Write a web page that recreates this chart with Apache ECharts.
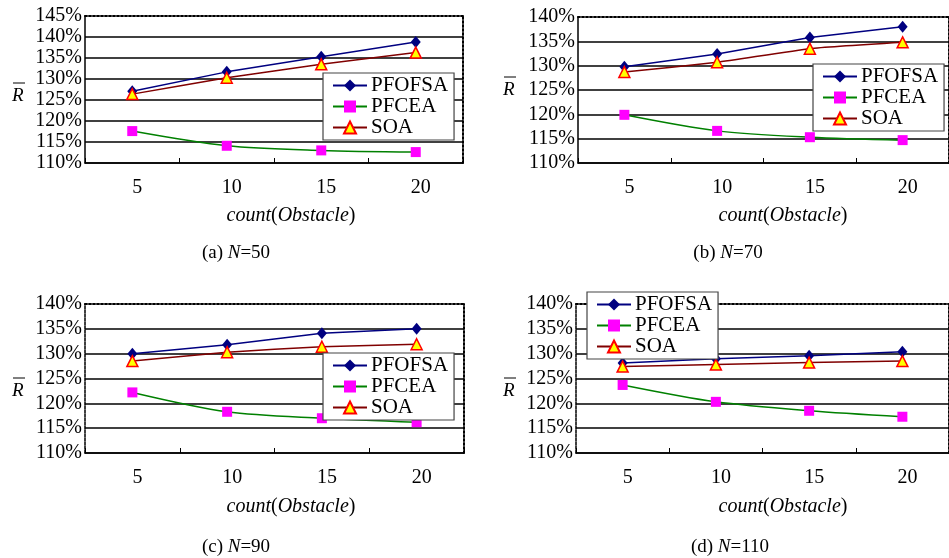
<!DOCTYPE html>
<html>
<head>
<meta charset="utf-8">
<script src="https://cdn.jsdelivr.net/npm/echarts@6/dist/echarts.min.js"></script>
<style>
html,body{margin:0;padding:0;background:#fff;}
#c{width:949px;height:558px;}
</style>
</head>
<body>
<div id="c"></div>
<script>
var categories = ['5', '10', '15', '20'];
var seriesNames = ['PFOFSA', 'PFCEA', 'SOA'];

var a_PFOFSA = [127.1, 131.7, 135.3, 138.8];
var a_PFCEA  = [117.6, 114.1, 113.0, 112.6];
var a_SOA    = [126.4, 130.3, 133.5, 136.3];

var b_PFOFSA = [129.8, 132.4, 135.8, 138.0];
var b_PFCEA  = [119.9, 116.6, 115.3, 114.7];
var b_SOA    = [128.7, 130.7, 133.5, 134.8];

var c_PFOFSA = [130.0, 131.8, 134.1, 135.0];
var c_PFCEA  = [122.2, 118.3, 117.0, 116.2];
var c_SOA    = [128.5, 130.3, 131.4, 131.9];

var d_PFOFSA = [128.1, 129.0, 129.6, 130.4];
var d_PFCEA  = [123.7, 120.3, 118.5, 117.3];
var d_SOA    = [127.4, 127.8, 128.2, 128.5];

var yMins = [110, 110, 110, 110];
var yMaxs = [145, 140, 140, 140];
var captions = [['(a) ', 'N', '=50'], ['(b) ', 'N', '=70'], ['(c) ', 'N', '=90'], ['(d) ', 'N', '=110']];

var panels = [
  [a_PFOFSA, a_PFCEA, a_SOA],
  [b_PFOFSA, b_PFCEA, b_SOA],
  [c_PFOFSA, c_PFCEA, c_SOA],
  [d_PFOFSA, d_PFCEA, d_SOA]
];

var FONT = '"Liberation Serif", "Times New Roman", serif';

var layout = [
  {left: 85,  top: 16,  width: 378, height: 147, legend: {left: 323, top: 73},  yLab: {x: 19, y: 97},  xName: {x: 291, y: 216}, cap: {x: 236, y: 253}, dashedLeft: false},
  {left: 578, top: 17,  width: 378, height: 146, legend: {left: 813, top: 64},  yLab: {x: 510, y: 91}, xName: {x: 783, y: 216}, cap: {x: 728, y: 253}, dashedLeft: false},
  {left: 85,  top: 304, width: 379, height: 149, legend: {left: 323, top: 353}, yLab: {x: 19, y: 392}, xName: {x: 291, y: 507}, cap: {x: 236, y: 547}, dashedLeft: true},
  {left: 576, top: 304, width: 378, height: 149, legend: {left: 587, top: 292}, yLab: {x: 510, y: 392}, xName: {x: 783, y: 507}, cap: {x: 730, y: 547}, dashedLeft: true}
];

var styles = [
  {color: '#000080', symbol: 'diamond', size: [10, 12], fill: '#000080', border: '#000080', smooth: false},
  {color: '#008000', symbol: 'rect', size: 10, fill: '#FF00FF', border: '#FF00FF', smooth: 0.3},
  {color: '#800000', symbol: 'triangle', size: [11, 11], fill: '#FFFF00', border: '#FF0000', smooth: 0.15}
];

var grids = [], xAxes = [], yAxes = [], series = [], legends = [], graphics = [];
var xExtra = [], yExtra = [];

layout.forEach(function (L, i) {
  grids.push({left: L.left, top: L.top, width: L.width, height: L.height,
    show: false, containLabel: false});
  xAxes.push({type: 'category', gridIndex: i, data: categories, boundaryGap: true,
    axisLine: {show: true, lineStyle: {color: '#000', width: 1.5}},
    axisTick: {show: true, inside: true, length: 5, alignWithLabel: false, lineStyle: {color: '#000', width: 1}},
    axisLabel: {color: '#000', fontFamily: FONT, fontSize: 20, margin: 15, padding: [0, 0, 0, 10]},
    splitLine: {show: false}});
  yAxes.push({type: 'value', gridIndex: i, min: yMins[i], max: yMaxs[i], interval: 5,
    axisLine: {show: true, lineStyle: {color: '#000', width: 1.5, type: L.dashedLeft ? [3, 1] : 'solid'}},
    axisTick: {show: false},
    axisLabel: {color: '#000', fontFamily: FONT, fontSize: 20, margin: 3, formatter: '{value}%'},
    splitLine: {show: true, showMaxLine: false, lineStyle: {color: '#000', width: 1.5}}});
  xExtra.push({type: 'category', gridIndex: i, data: categories, position: 'top',
    axisLine: {show: true, lineStyle: {color: '#000', width: 2, type: [2, 2]}},
    axisTick: {show: false}, axisLabel: {show: false}, splitLine: {show: false}});
  yExtra.push({type: 'value', gridIndex: i, min: yMins[i], max: yMaxs[i], interval: 5, position: 'right',
    axisLine: {show: true, lineStyle: {color: '#000', width: 2, type: [2, 2]}},
    axisTick: {show: false}, axisLabel: {show: false}, splitLine: {show: false}});
  panels[i].forEach(function (vals, k) {
    var s = styles[k];
    series.push({type: 'line', name: seriesNames[k], xAxisIndex: i, yAxisIndex: i,
      data: vals, smooth: s.smooth, symbol: s.symbol, symbolSize: s.size, showAllSymbol: true,
      lineStyle: {color: s.color, width: 1.5},
      itemStyle: {color: s.fill, borderColor: s.border, borderWidth: k === 2 ? 1.5 : 0},
      z: 3 + k});
  });
  legends.push({orient: 'vertical', left: L.legend.left, top: L.legend.top,
    data: seriesNames, itemWidth: 34, itemHeight: 15, itemGap: 0,
    backgroundColor: '#fff', borderColor: '#444', borderWidth: 1.2, borderRadius: 0,
    padding: [2, 6, 2, 9], selectedMode: false, z: 10,
    textStyle: {color: '#000', fontFamily: FONT, fontSize: 21, lineHeight: 20, padding: [0, 0, 0, -1]}});

  graphics.push({type: 'text', left: L.yLab.x - 7, top: L.yLab.y - 11, z: 20,
    style: {text: 'R', fill: '#000', font: 'italic 19px ' + FONT}});
  graphics.push({type: 'line', z: 20, shape: {x1: L.yLab.x - 6, y1: L.yLab.y - 14, x2: L.yLab.x + 6, y2: L.yLab.y - 14},
    style: {stroke: '#000', lineWidth: 1}});
  graphics.push({type: 'text', z: 20, x: L.xName.x, y: L.xName.y,
    style: {text: '{i|count}{n|(}{i|Obstacle}{n|)}', align: 'center', verticalAlign: 'middle',
      rich: {i: {fontFamily: FONT, fontStyle: 'italic', fontSize: 20, fill: '#000'},
             n: {fontFamily: FONT, fontSize: 20, fill: '#000'}}}});
  var c = captions[i];
  graphics.push({type: 'text', z: 20, x: L.cap.x, y: L.cap.y,
    style: {text: '{n|' + c[0] + '}{i|' + c[1] + '}{n|' + c[2] + '}', align: 'center', verticalAlign: 'middle',
      rich: {i: {fontFamily: FONT, fontStyle: 'italic', fontSize: 19, fill: '#000'},
             n: {fontFamily: FONT, fontSize: 19, fill: '#000'}}}});
});

var chart = echarts.init(document.getElementById('c'));
chart.setOption({
  backgroundColor: '#fff',
  animation: false,
  grid: grids,
  xAxis: xAxes.concat(xExtra),
  yAxis: yAxes.concat(yExtra),
  legend: legends,
  series: series,
  graphic: graphics
});
</script>
</body>
</html>
